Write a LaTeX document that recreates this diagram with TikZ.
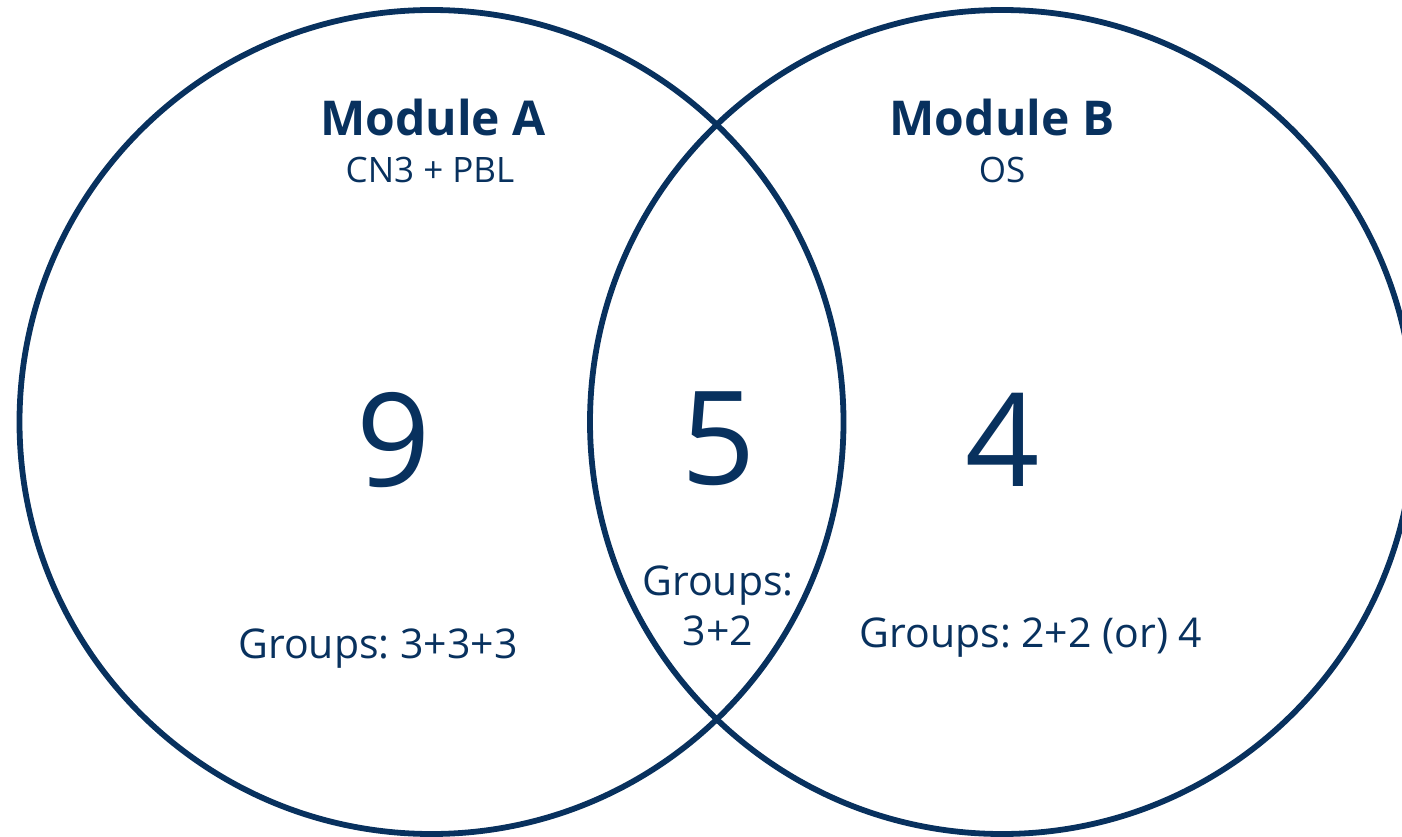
\documentclass[tikz,border=0pt]{standalone}
\usepackage{fontspec}
\setmainfont{Open Sans}
\usepackage{tikz}
\definecolor{navy}{RGB}{8,49,94}
\frenchspacing

\begin{document}
\begin{tikzpicture}[x=1pt,y=-1pt,
    every node/.style={text=navy,inner sep=0pt,anchor=base},
    title/.style={font=\fontsize{48}{56}\selectfont\bfseries},
    subtitle/.style={font=\fontsize{35}{40}\selectfont},
    count/.style={font=\fontsize{130}{140}\selectfont},
    groups/.style={font=\fontsize{41}{50}\selectfont,align=center}]
    \useasboundingbox (0,0) rectangle (1402,837);
    \clip (0,0) rectangle (1402,837);

    % the two sets
    \draw[navy,line width=5.8pt] (431.5,422) circle[radius=412pt];
    \draw[navy,line width=5.8pt] (1002,422) circle[radius=412pt];

    \begin{scope}
      \node[title] (nameA) at (433,136) {Module A};
      \node[subtitle] (subA) at (430,183) {CN3 + PBL};
      \node[count] (countA) at (394,486) {9};
      \node[groups] (groupsA) at (378,658) {Groups: 3+3+3};
    \end{scope}

    \begin{scope}
      \node[count] (countAB) at (719,484) {5};
      \node[groups] (groupsAB) at (718,645) {Groups:\\3+2};
    \end{scope}

    \begin{scope}
      \node[title] (nameB) at (1002,136) {Module B};
      \node[subtitle] (subB) at (1002,183) {OS};
      \node[count] (countB) at (1003,486) {4};
      \node[groups] (groupsB) at (1031,647) {Groups: 2+2 (or) 4};
    \end{scope}
  \end{tikzpicture}
\end{document}
